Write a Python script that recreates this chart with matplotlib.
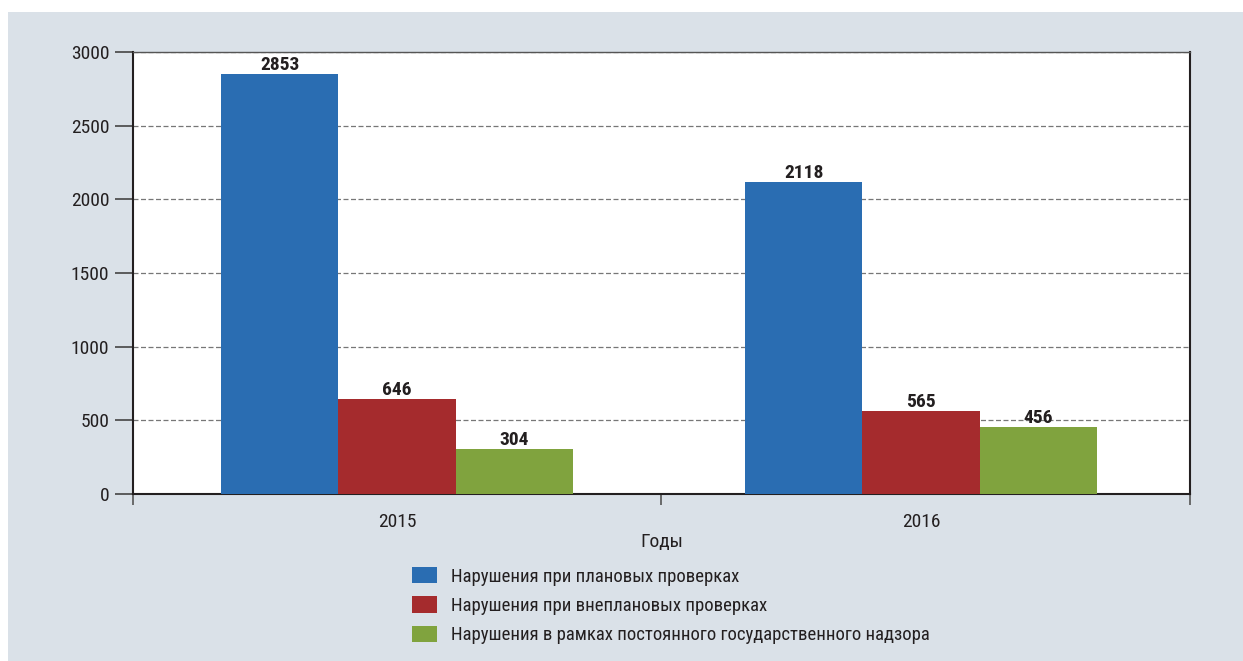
import matplotlib.pyplot as plt
from matplotlib import font_manager
import numpy as np

# chart data
years = ['2015', '2016']
planned = [2853, 2118]
unplanned = [646, 565]
permanent = [304, 456]
series_names = ['Нарушения при плановых проверках',
                'Нарушения при внеплановых проверках',
                'Нарушения в рамках постоянного государственного надзора']
yticks = [0, 500, 1000, 1500, 2000, 2500, 3000]

colors = ['#2a6db2', '#a52b2d', '#80a33e']
panel_bg = '#dae1e8'
ink = '#231f20'

names = {f.name for f in font_manager.fontManager.ttflist}
fams = [f for f in ['Roboto Condensed', 'PT Sans Narrow', 'Liberation Sans'] if f in names]
plt.rcParams['font.family'] = fams + ['DejaVu Sans']

fig = plt.figure(figsize=(12.43, 6.61), dpi=100)
fig.patch.set_facecolor('white')
# grey-blue panel behind the chart
fig.patches.append(plt.Rectangle((8 / 1243, 0), 1, 1 - 12 / 661, transform=fig.transFigure,
                                 facecolor=panel_bg, edgecolor='none', zorder=-10))

ax = fig.add_axes([133 / 1243, 1 - 494 / 661, (1190 - 133) / 1243, (494 - 52) / 661])
ax.set_facecolor('white')

x = np.arange(len(years))
w = 0.224
for i, vals in enumerate([planned, unplanned, permanent]):
    bars = ax.bar(x + (i - 1) * w, vals, w, color=colors[i], label=series_names[i], zorder=3)
    for b, v in zip(bars, vals):
        ax.annotate(str(v), (b.get_x() + b.get_width() / 2, v), xytext=(0, 0),
                    textcoords='offset points', ha='center', va='bottom',
                    fontsize=14, fontweight='bold', color=ink, zorder=4)

x_lo, x_hi = -0.504, 1.513
ax.set_xlim(x_lo, x_hi)
ax.set_ylim(0, 3000)
ax.set_yticks(yticks)
ax.set_yticklabels([str(t) for t in yticks], fontsize=14, color=ink)
ax.yaxis.grid(True, linestyle=(0, (4, 2)), color='#777777', linewidth=0.9, zorder=0)

# category ticks at the boundaries, labels in the middle
ax.set_xticks([x_lo, 0.504, x_hi])
ax.set_xticklabels(['', '', ''])
ax.set_xticks(x, minor=True)
ax.set_xticklabels(years, minor=True, fontsize=14, color=ink)
ax.tick_params(axis='x', which='major', length=8, width=1.2, color='#555555')
ax.tick_params(axis='x', which='minor', length=0, pad=14)
ax.tick_params(axis='y', length=13, width=1.2, color='#444444', pad=4)
ax.set_xlabel('Годы', fontsize=14, color=ink, labelpad=1)

for s in ax.spines.values():
    s.set_color(ink)
    s.set_linewidth(1.5)
ax.spines['top'].set_color('#555555')
ax.spines['top'].set_linewidth(1.0)

handles = ax.get_legend_handles_labels()
leg = fig.legend(*handles, loc='upper left', bbox_to_anchor=(412 / 1243, 1 - 567 / 661),
                 frameon=False, fontsize=13.5, handlelength=1.35, handleheight=0.95,
                 labelspacing=0.58, handletextpad=0.75, borderpad=0, borderaxespad=0)
for t in leg.get_texts():
    t.set_color(ink)

fig.savefig('out.png', dpi=100, facecolor=fig.get_facecolor())
